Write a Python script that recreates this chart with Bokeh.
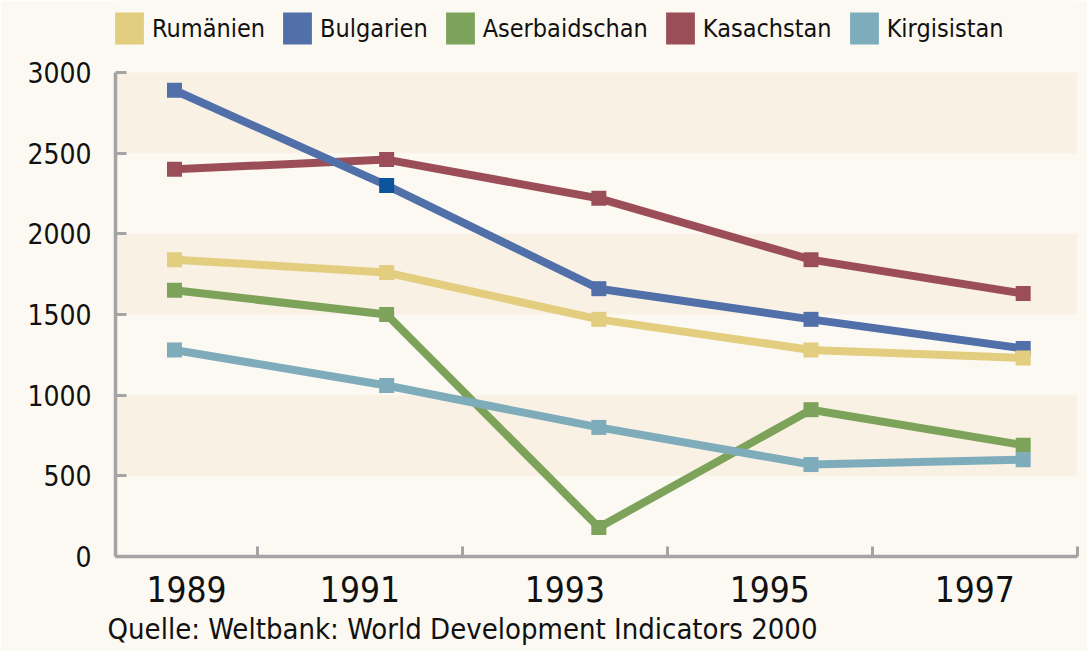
from bokeh.plotting import figure
from bokeh.models import (Range1d, FixedTicker, Legend, LegendItem, BoxAnnotation, Title)
from bokeh.embed import file_html
from bokeh.resources import INLINE

# ---- data ----
years = [1989, 1991, 1993, 1995, 1997]
year_labels = ["1989", "1991", "1993", "1995", "1997"]
rumaenien = [1840, 1760, 1470, 1280, 1230]
bulgarien = [2890, 2300, 1660, 1470, 1290]
aserbaidschan = [1650, 1500, 180, 910, 690]
kasachstan = [2400, 2460, 2220, 1840, 1630]
kirgisistan = [1280, 1060, 800, 570, 600]
y_ticks = [0, 500, 1000, 1500, 2000, 2500, 3000]
band_ranges = [(500, 1000), (1500, 2000), (2500, 3000)]
source_text = "Quelle: Weltbank: World Development Indicators 2000"

# ---- styles ----
BG = "#FCF9F2"
BAND = "#F9F1E4"
AXIS = "#A4A4A4"
FONT = "'DejaVu Sans Condensed', 'DejaVu Sans', sans-serif"
TXT = "#111111"
series = [
    ("Kasachstan", kasachstan, "#9C4E58"),
    ("Bulgarien", bulgarien, "#5170AA"),
    ("Rumänien", rumaenien, "#E3CD7E"),
    ("Aserbaidschan", aserbaidschan, "#7DA35A"),
    ("Kirgisistan", kirgisistan, "#7FACBB"),
]
legend_order = ["Rumänien", "Bulgarien", "Aserbaidschan", "Kasachstan", "Kirgisistan"]

# layout: frame spans the full height above the x axis; value axis ends at 3000
y_top = 3000 + 72 * 3000 / 484.0
x_start, x_end = 1988.444, 1997.512
bounds = [x_start, 1989.782, 1991.714, 1993.646, 1995.578, 1997.509]
centers = [round((bounds[i] + bounds[i + 1]) / 2, 3) for i in range(len(year_labels))]

p = figure(width=1087, height=651, output_backend="svg", toolbar_location=None,
           x_range=Range1d(x_start, x_end), y_range=Range1d(0, y_top),
           min_border_left=115, min_border_right=10, min_border_top=0,
           min_border_bottom=95)
p.background_fill_color = BG
p.border_fill_color = BG
p.outline_line_color = None
p.grid.visible = False

for lo, hi in band_ranges:
    p.add_layout(BoxAnnotation(bottom=lo, top=hi, fill_color=BAND, fill_alpha=1,
                               line_color=None, level="underlay"))

renderers = {}
for name, vals, col in series:
    p.line(years, vals, line_width=8, line_color=col)
    mcols = [col] * len(vals)
    if name == "Bulgarien":
        mcols[1] = "#0C559C"
    p.scatter(years, vals, marker="square", size=15, fill_color=mcols,
              line_color=None)
    # zero-area boxes at the data points: only used for the square legend swatch
    renderers[name] = p.quad(left=years, right=years, top=vals, bottom=vals,
                             fill_color=col, line_color=None)

# axes
xa = p.xaxis[0]
xa.ticker = FixedTicker(ticks=centers, minor_ticks=bounds[1:])
xa.major_label_overrides = {c: l for c, l in zip(centers, year_labels)}
xa.major_tick_line_color = None
xa.minor_tick_in = 10
xa.minor_tick_out = 0
xa.minor_tick_line_color = AXIS
xa.minor_tick_line_width = 3
xa.axis_line_color = AXIS
xa.axis_line_width = 3.5
xa.major_label_text_font = FONT
xa.major_label_text_font_size = "35px"
xa.major_label_text_color = TXT
xa.major_label_standoff = 13

ya = p.yaxis[0]
ya.ticker = FixedTicker(ticks=y_ticks)
ya.bounds = (0, 3000)
ya.major_tick_in = 11
ya.major_tick_out = 0
ya.major_tick_line_color = AXIS
ya.major_tick_line_width = 3
ya.minor_tick_line_color = None
ya.axis_line_color = AXIS
ya.axis_line_width = 3.5
ya.major_label_text_font = FONT
ya.major_label_text_font_size = "28px"
ya.major_label_text_color = TXT
ya.major_label_standoff = 24

legend = Legend(items=[LegendItem(label=n, renderers=[renderers[n]]) for n in legend_order],
                orientation="horizontal", location=(-4, 508),
                glyph_width=36, glyph_height=40, label_standoff=5, spacing=14,
                padding=0, margin=0, border_line_color=None,
                background_fill_alpha=0, label_text_font=FONT,
                label_text_font_size="25px", label_text_color=TXT)
p.add_layout(legend)

p.add_layout(Title(text=source_text, align="left", offset=-8, standoff=10,
                   text_font=FONT, text_font_size="29px", text_font_style="normal",
                   text_color=TXT), "below")

open("out.html", "w").write(file_html(p, INLINE))
